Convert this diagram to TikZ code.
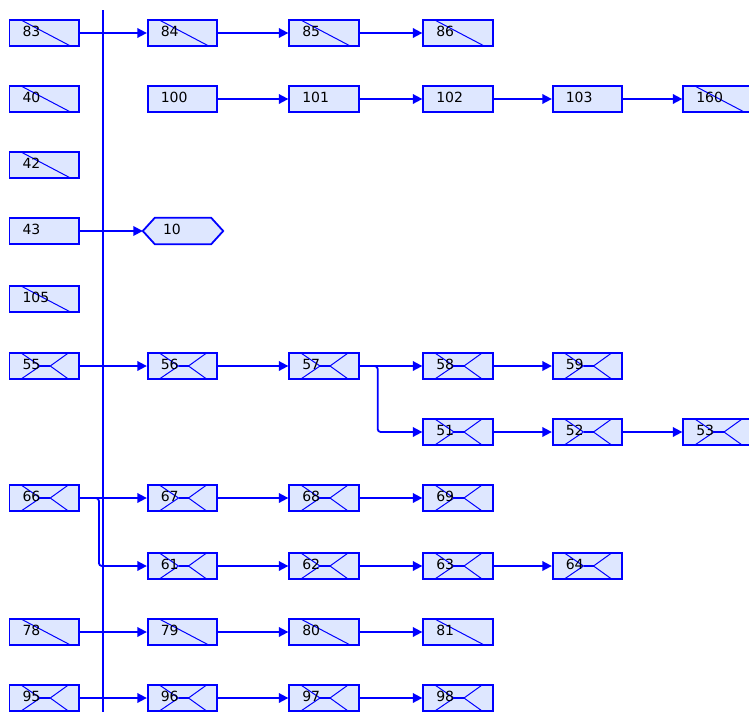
\documentclass[tikz,border=0pt]{standalone}
\usepackage{fontspec}
\setmainfont{DejaVu Sans}
\usetikzlibrary{arrows.meta,backgrounds,calc}
\definecolor{lnblue}{RGB}{0,0,255}
\definecolor{boxfill}{RGB}{222,231,255}
\tikzset{
  box/.style={draw=lnblue, line width=1.8pt, fill=boxfill, rectangle,
    minimum height=25.5pt, text width=43.5pt, inner xsep=13pt, inner ysep=0pt,
    align=left, text depth=2.5pt, font=\fontsize{14}{14}\selectfont},
  diagbox/.style={box, path picture={
    \draw[lnblue, line width=1pt]
      ([xshift=12pt]path picture bounding box.north west) --
      ([xshift=-9pt]path picture bounding box.south east);}},
  xbox/.style={box, path picture={
    \draw[lnblue, line width=1pt]
      ([xshift=12pt]path picture bounding box.north west) --
      ([xshift=-4pt]path picture bounding box.center) --
      ([xshift=12pt]path picture bounding box.south west);
    \draw[lnblue, line width=1pt]
      ([xshift=-11pt]path picture bounding box.north east) --
      ([xshift=6pt]path picture bounding box.center) --
      ([xshift=-11pt]path picture bounding box.south east);
    \draw[lnblue, line width=2.2pt]
      ([xshift=-4pt]path picture bounding box.center) --
      ([xshift=6pt]path picture bounding box.center);}},
  hexnode/.style={rectangle, minimum width=80pt, minimum height=26pt,
    text width=40pt, inner xsep=20pt, inner ysep=0pt, align=left,
    text depth=2.5pt, font=\fontsize{14}{14}\selectfont},
  hexshape/.style={draw=lnblue, line width=1.8pt, fill=boxfill},
  arr/.style={draw=lnblue, line width=1.8pt, -{Triangle[length=9.5pt,width=9.5pt]}},
  bus/.style={draw=lnblue, line width=2pt}
}
\begin{document}
\begin{tikzpicture}[x=1pt,y=-1pt]
\useasboundingbox (0,0) rectangle (749,712);
% columns: 44.25, 182.5, 324, 458, 587.5, 718
\node[diagbox] (n83) at (44.25,33) {83};
\node[diagbox] (n84) at (182.5,33) {84};
\node[diagbox] (n85) at (324,33) {85};
\node[diagbox] (n86) at (458,33) {86};

\node[diagbox] (n40) at (44.25,99) {40};
\node[box] (n100) at (182.5,99) {100};
\node[box] (n101) at (324,99) {101};
\node[box] (n102) at (458,99) {102};
\node[box] (n103) at (587.5,99) {103};
\node[diagbox] (n160) at (718,99) {160};

\node[diagbox] (n42) at (44.25,165) {42};

\node[box] (n43) at (44.25,231) {43};
\node[hexnode] (n10) at (183,231) {10};
\begin{scope}[on background layer]
\draw[hexshape] (n10.west) -- ([xshift=12pt]n10.north west) -- ([xshift=-12pt]n10.north east)
  -- (n10.east) -- ([xshift=-12pt]n10.south east) -- ([xshift=12pt]n10.south west) -- cycle;
\end{scope}

\node[diagbox] (n105) at (44.25,299) {105};

\node[xbox] (n55) at (44.25,366) {55};
\node[xbox] (n56) at (182.5,366) {56};
\node[xbox] (n57) at (324,366) {57};
\node[xbox] (n58) at (458,366) {58};
\node[xbox] (n59) at (587.5,366) {59};

\node[xbox] (n51) at (458,432) {51};
\node[xbox] (n52) at (587.5,432) {52};
\node[xbox] (n53) at (718,432) {53};

\node[xbox] (n66) at (44.25,498) {66};
\node[xbox] (n67) at (182.5,498) {67};
\node[xbox] (n68) at (324,498) {68};
\node[xbox] (n69) at (458,498) {69};

\node[xbox] (n61) at (182.5,566) {61};
\node[xbox] (n62) at (324,566) {62};
\node[xbox] (n63) at (458,566) {63};
\node[xbox] (n64) at (587.5,566) {64};

\node[diagbox] (n78) at (44.25,632) {78};
\node[diagbox] (n79) at (182.5,632) {79};
\node[diagbox] (n80) at (324,632) {80};
\node[diagbox] (n81) at (458,632) {81};

\node[xbox] (n95) at (44.25,698) {95};
\node[xbox] (n96) at (182.5,698) {96};
\node[xbox] (n97) at (324,698) {97};
\node[xbox] (n98) at (458,698) {98};

% bus
\coordinate (bustop) at (103,10);
\coordinate (busbot) at (103,712);
\draw[bus] (bustop) -- (busbot);

% connectors
\draw[arr] (n83) -- (n84);
\draw[arr] (n84) -- (n85);
\draw[arr] (n85) -- (n86);

\draw[arr] (n100) -- (n101);
\draw[arr] (n101) -- (n102);
\draw[arr] (n102) -- (n103);
\draw[arr] (n103) -- (n160);

\draw[arr] (n43) -- (n10);

\draw[arr] (n55) -- (n56);
\draw[arr] (n56) -- (n57);
\draw[arr] (n57) -- (n58);
\draw[arr] (n58) -- (n59);
\draw[arr, rounded corners=3pt] (n57.east) -- ++(18,0) |- (n51.west);
\draw[arr] (n51) -- (n52);
\draw[arr] (n52) -- (n53);

\draw[arr] (n66) -- (n67);
\draw[arr] (n67) -- (n68);
\draw[arr] (n68) -- (n69);
\draw[arr, rounded corners=3pt] (n66.east) -- ++(19,0) |- (n61.west);
\draw[arr] (n61) -- (n62);
\draw[arr] (n62) -- (n63);
\draw[arr] (n63) -- (n64);

\draw[arr] (n78) -- (n79);
\draw[arr] (n79) -- (n80);
\draw[arr] (n80) -- (n81);

\draw[arr] (n95) -- (n96);
\draw[arr] (n96) -- (n97);
\draw[arr] (n97) -- (n98);
\end{tikzpicture}
\end{document}
